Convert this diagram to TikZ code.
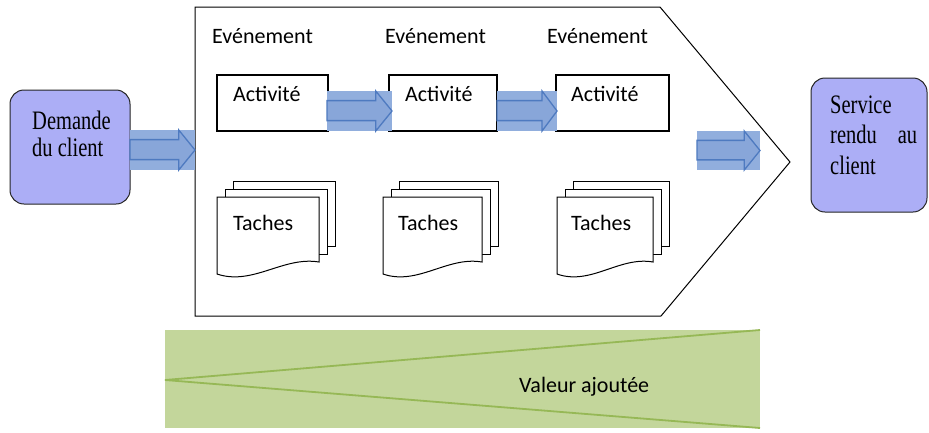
\documentclass[tikz,border=0pt]{standalone}
\usepackage{graphicx}
\usepackage{fontspec}
\setmainfont{Liberation Serif}
\newfontfamily\labelfont{Carlito}

\definecolor{clientfill}{RGB}{172,174,246}
\definecolor{arrowbg}{RGB}{145,174,221}
\definecolor{arrowfill}{RGB}{136,166,217}
\definecolor{arrowline}{RGB}{78,122,192}
\definecolor{valuefill}{RGB}{195,214,155}
\definecolor{valueline}{RGB}{150,184,86}

% block arrow with its light backing rectangle: x0, y0, x1, y1
\newcommand\blockarrow[4]{%
  \pgfmathsetmacro\baTop{#2+0.24*(#4-#2)}%
  \pgfmathsetmacro\baBot{#2+0.74*(#4-#2)}%
  \pgfmathsetmacro\baHead{#3-0.25*(#3-#1)}%
  \pgfmathsetmacro\baMid{(#2+#4)/2}%
  \fill[arrowbg] (#1,#2) rectangle (#3,#4);
  \filldraw[arrowshape] (#1,\baTop) -- (\baHead,\baTop) -- (\baHead,#2)
    -- (#3,\baMid) -- (\baHead,#4) -- (\baHead,\baBot) -- (#1,\baBot) -- cycle;
}

% stack of three pages: left x, width of the front page
\newcommand\tachesstack[2]{%
  \foreach \k in {16,8} {
    \filldraw[page] (#1+\k,197-\k) rectangle (#1+#2+\k,262-\k);
  }
  \filldraw[page] (#1,197) -- (#1+#2,197) -- (#1+#2,262)
    .. controls (#1+0.65*#2,256) and (#1+0.35*#2,286) .. (#1,274) -- cycle;
}

% tall, narrow serif text block: width, baselineskip, text
\newcommand\talltext[3]{%
  \scalebox{1}[1.3]{\parbox[t]{#1}{\fontsize{20.5}{#2}\selectfont\raggedright #3}}}

\begin{document}
\begin{tikzpicture}[x=1pt,y=-1pt,
  lbl/.style={font=\labelfont\fontsize{22}{26}\selectfont, inner sep=0pt, anchor=base west},
  serif/.style={inner sep=0pt, anchor=base west},
  clientbox/.style={draw=black!85, line width=1pt, fill=clientfill, rounded corners=14pt, inner sep=0pt},
  actbox/.style={draw=black, line width=1.1pt, fill=white, inner sep=0pt},
  page/.style={draw=black, line width=1pt, fill=white},
  arrowshape/.style={fill=arrowfill, draw=arrowline, line width=1.3pt, line join=miter},
  process/.style={draw=black, line width=1pt, fill=white, line join=miter}]

\useasboundingbox (0,0) rectangle (929,432);
\fill[white] (0,0) rectangle (929,432);

% process outline
\draw[process] (195,7) coordinate (p1) -- (660,7) coordinate (p2)
  -- (790,162) coordinate (tip) -- (661,316) coordinate (p4)
  -- (195,316) coordinate (p5) -- cycle;

% customer side
\node[clientbox, minimum width=120pt, minimum height=114pt] (dem) at (70,147) {};
\node[serif] (demtext) at (32,129) {\talltext{90pt}{21.5}{Demande\\du client}};

\node[clientbox, minimum width=116pt, minimum height=134pt] (svc) at (869,145) {};
\node[serif] (svctext) at (830,113) {\talltext{87pt}{23.5}{Service\\rendu\hfill au\\client}};

% events
\node[lbl] (ev1) at (212,43) {Evénement};
\node[lbl] (ev2) at (385,43) {Evénement};
\node[lbl] (ev3) at (547,43) {Evénement};

% activities
\node[actbox, minimum width=111pt, minimum height=56pt] (act1) at (272.5,103) {};
\node[actbox, minimum width=108pt, minimum height=56pt] (act2) at (443,103) {};
\node[actbox, minimum width=113pt, minimum height=56pt] (act3) at (612.5,103) {};
\node[lbl] (at1) at (233,101) {Activité};
\node[lbl] (at2) at (405,101) {Activité};
\node[lbl] (at3) at (571,101) {Activité};

% task stacks
\tachesstack{217}{102}
\tachesstack{383}{99}
\tachesstack{557}{96}
\node[lbl] (ta1) at (233,230) {Taches};
\node[lbl] (ta2) at (398,230) {Taches};
\node[lbl] (ta3) at (571,230) {Taches};

% flow arrows
\blockarrow{130}{130}{195}{170}
\blockarrow{327}{91}{392}{131}
\blockarrow{497}{91}{557}{131}
\blockarrow{697}{131}{760}{170}

% added value wedge
\fill[valuefill] (165,330) rectangle (760,428);
\draw[valueline, line width=1.8pt] (760,330) coordinate (vtop) -- (165,380) coordinate (vapex)
  -- (760,428) coordinate (vbot);
\node[lbl] (val) at (519,392) {Valeur ajoutée};

\end{tikzpicture}
\end{document}
